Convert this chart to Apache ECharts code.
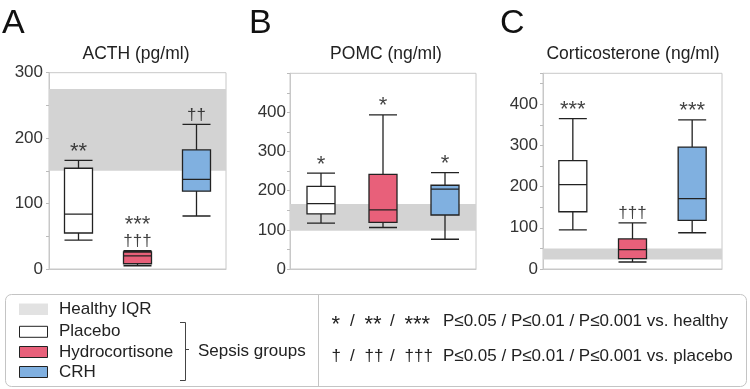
<!DOCTYPE html>
<html>
<head>
<meta charset="utf-8">
<script src="https://cdn.jsdelivr.net/npm/echarts@6/dist/echarts.min.js"></script>
<style>
  html, body { margin: 0; padding: 0; background: #fff; }
  #chart { width: 750px; height: 389px; }
</style>
</head>
<body>
<div id="chart"></div>
<script>
// groups, boxes are [min, Q1, median, Q3, max]
var groups = ['Placebo', 'Hydrocortisone', 'CRH'];

var acthBoxes = [[44, 55, 84, 154, 166], [5, 8, 20, 26, 28], [81, 119, 137, 182, 221]];
var pomcBoxes = [[117, 141, 167, 211, 245], [106, 119, 151, 242, 394], [76, 138, 204, 214, 246]];
var corticoBoxes = [[95, 139, 205, 263, 365], [17, 25, 47, 73, 112], [88, 118, 171, 296, 362]];

// healthy IQR band [low, high]
var acthHealthy = [150, 275];
var pomcHealthy = [98, 166];
var corticoHealthy = [23, 50];

var acthStars = ['**', '***', ''];
var acthDaggers = ['', '†††', '††'];
var pomcStars = ['*', '*', '*'];
var pomcDaggers = ['', '', ''];
var corticoStars = ['***', '', '***'];
var corticoDaggers = ['', '†††', ''];

var titles = ['ACTH (pg/ml)', 'POMC (ng/ml)', 'Corticosterone (ng/ml)'];
var letters = ['A', 'B', 'C'];
var yMaxes = [300, 500, 475];
var yLabelMax = [300, 400, 400];

var FONT = "'Liberation Sans', Arial, sans-serif";
var fills = ['#ffffff', '#e8607a', '#80b0e0'];
var edge = '#222';
var frame = '#c8c8c8';

var panels = [
  { box: acthBoxes, band: acthHealthy, stars: acthStars, daggers: acthDaggers,
    grid: { left: 49, top: 72.7, width: 177, height: 196.3 }, margin: 6, tx: 136, lx: 2 },
  { box: pomcBoxes, band: pomcHealthy, stars: pomcStars, daggers: pomcDaggers,
    grid: { left: 290, top: 73.3, width: 186, height: 195.7 }, margin: 4, tx: 386, lx: 249 },
  { box: corticoBoxes, band: corticoHealthy, stars: corticoStars, daggers: corticoDaggers,
    grid: { left: 543, top: 73.3, width: 179, height: 195.7 }, margin: 5, tx: 633, lx: 500 }
];

var chart = echarts.init(document.getElementById('chart'), null, { renderer: 'canvas' });

var grids = [], xAxes = [], yAxes = [], series = [], graphics = [];

panels.forEach(function (p, k) {
  grids.push(Object.assign({ show: true, borderColor: frame, borderWidth: 1, backgroundColor: '#fff' }, p.grid));
  xAxes.push({
    type: 'category', gridIndex: k, data: groups,
    axisLine: { lineStyle: { color: frame } },
    axisTick: { show: false }, axisLabel: { show: false }, splitLine: { show: false }
  });
  yAxes.push({
    type: 'value', gridIndex: k, min: 0, max: yMaxes[k], interval: 50,
    axisLine: { show: true, lineStyle: { color: frame } },
    axisTick: { show: true, length: 3, lineStyle: { color: '#bbb' } },
    splitLine: { show: false },
    axisLabel: {
      margin: p.margin, color: '#333', fontSize: 17, fontFamily: FONT,
      padding: [0, 0, 7, 0],
      formatter: function (v) { return (v % 100 === 0 && v <= yLabelMax[k]) ? String(v) : ''; }
    }
  });
  series.push({
    type: 'boxplot', xAxisIndex: k, yAxisIndex: k,
    boxWidth: [28, 28],
    emphasis: { disabled: true },
    data: p.box.map(function (b, i) {
      return { value: b, itemStyle: { color: fills[i], borderColor: edge, borderWidth: 1.3 } };
    }),
    markArea: {
      silent: true,
      itemStyle: { color: '#d3d3d3' },
      data: [[{ yAxis: p.band[0] }, { yAxis: p.band[1] }]]
    }
  });
  series.push({
    type: 'scatter', xAxisIndex: k, yAxisIndex: k, symbolSize: 0, silent: true,
    data: p.box.map(function (b, i) { return [i, b[4]]; }),
    label: {
      show: true, position: 'top', distance: 1, color: '#111', fontFamily: FONT,
      formatter: function (prm) {
        var out = [];
        if (p.stars[prm.dataIndex]) out.push('{s|' + p.stars[prm.dataIndex] + '}');
        if (p.daggers[prm.dataIndex]) out.push('{d|' + p.daggers[prm.dataIndex] + '}');
        return out.join('\n');
      },
      rich: {
        s: { fontSize: 22, lineHeight: 15, fontFamily: FONT, color: '#111' },
        d: { fontSize: 17, lineHeight: 17, fontFamily: FONT, color: '#111' }
      }
    }
  });
  graphics.push({
    type: 'text', x: p.tx, y: 54,
    style: { text: titles[k], font: '17.5px ' + FONT, fill: '#222',
      align: 'center', verticalAlign: 'middle', textAlign: 'center', textVerticalAlign: 'middle' }
  });
  graphics.push({
    type: 'text', x: p.lx, y: 24,
    style: { text: letters[k], font: '34px ' + FONT, fill: '#111',
      align: 'left', verticalAlign: 'middle', textAlign: 'left', textVerticalAlign: 'middle' }
  });
});

// legend box
function txt(x, y, s, size) {
  return { type: 'text', x: x, y: y,
    style: { text: s, font: (size || 17) + 'px ' + FONT, fill: '#222',
      align: 'left', verticalAlign: 'middle', textAlign: 'left', textVerticalAlign: 'middle' } };
}
graphics.push({ type: 'rect', shape: { x: 5.5, y: 294.5, width: 741, height: 92, r: 6 },
  style: { fill: '#fff', stroke: '#c4c4c4', lineWidth: 1 }, z: -1 });
graphics.push({ type: 'line', shape: { x1: 318.5, y1: 295, x2: 318.5, y2: 386 }, style: { stroke: '#c4c4c4', lineWidth: 1 } });
graphics.push({ type: 'rect', shape: { x: 19, y: 303.5, width: 29, height: 11.5 }, style: { fill: '#e2e2e2' } });
var legRows = [331.8, 352, 372];
groups.forEach(function (g, i) {
  graphics.push({ type: 'rect', shape: { x: 19.5, y: legRows[i] - 5.5, width: 28, height: 11 },
    style: { fill: fills[i], stroke: edge, lineWidth: 1 } });
  graphics.push(txt(59, legRows[i], g));
});
graphics.push(txt(59, 309.5, 'Healthy IQR'));
graphics.push({ type: 'polyline', shape: { points: [[180, 322.5], [185.5, 322.5], [185.5, 380.5], [180, 380.5]] },
  style: { stroke: '#444', lineWidth: 1, fill: null } });
graphics.push({ type: 'line', shape: { x1: 185.5, y1: 349.5, x2: 189, y2: 349.5 }, style: { stroke: '#444', lineWidth: 1 } });
graphics.push(txt(198, 351.7, 'Sepsis groups'));

var starTokens = ['*', '/', '**', '/', '***'];
var daggerTokens = ['†', '/', '††', '/', '†††'];
var tokenX = [331.5, 350, 364.5, 390, 404.5];
starTokens.forEach(function (t, i) {
  graphics.push(txt(tokenX[i], t === '/' ? 321.7 : 324.8, t, t === '/' ? 17 : 22));
});
daggerTokens.forEach(function (t, i) {
  graphics.push(txt(tokenX[i], 356.7, t, 17));
});
graphics.push(txt(443, 321.7, 'P≤0.05 / P≤0.01 / P≤0.001 vs. healthy'));
graphics.push(txt(443, 356.7, 'P≤0.05 / P≤0.01 / P≤0.001 vs. placebo'));

chart.setOption({
  animation: false,
  backgroundColor: '#fff',
  textStyle: { fontFamily: FONT },
  grid: grids,
  xAxis: xAxes,
  yAxis: yAxes,
  series: series,
  graphic: { elements: graphics }
});
</script>
</body>
</html>
